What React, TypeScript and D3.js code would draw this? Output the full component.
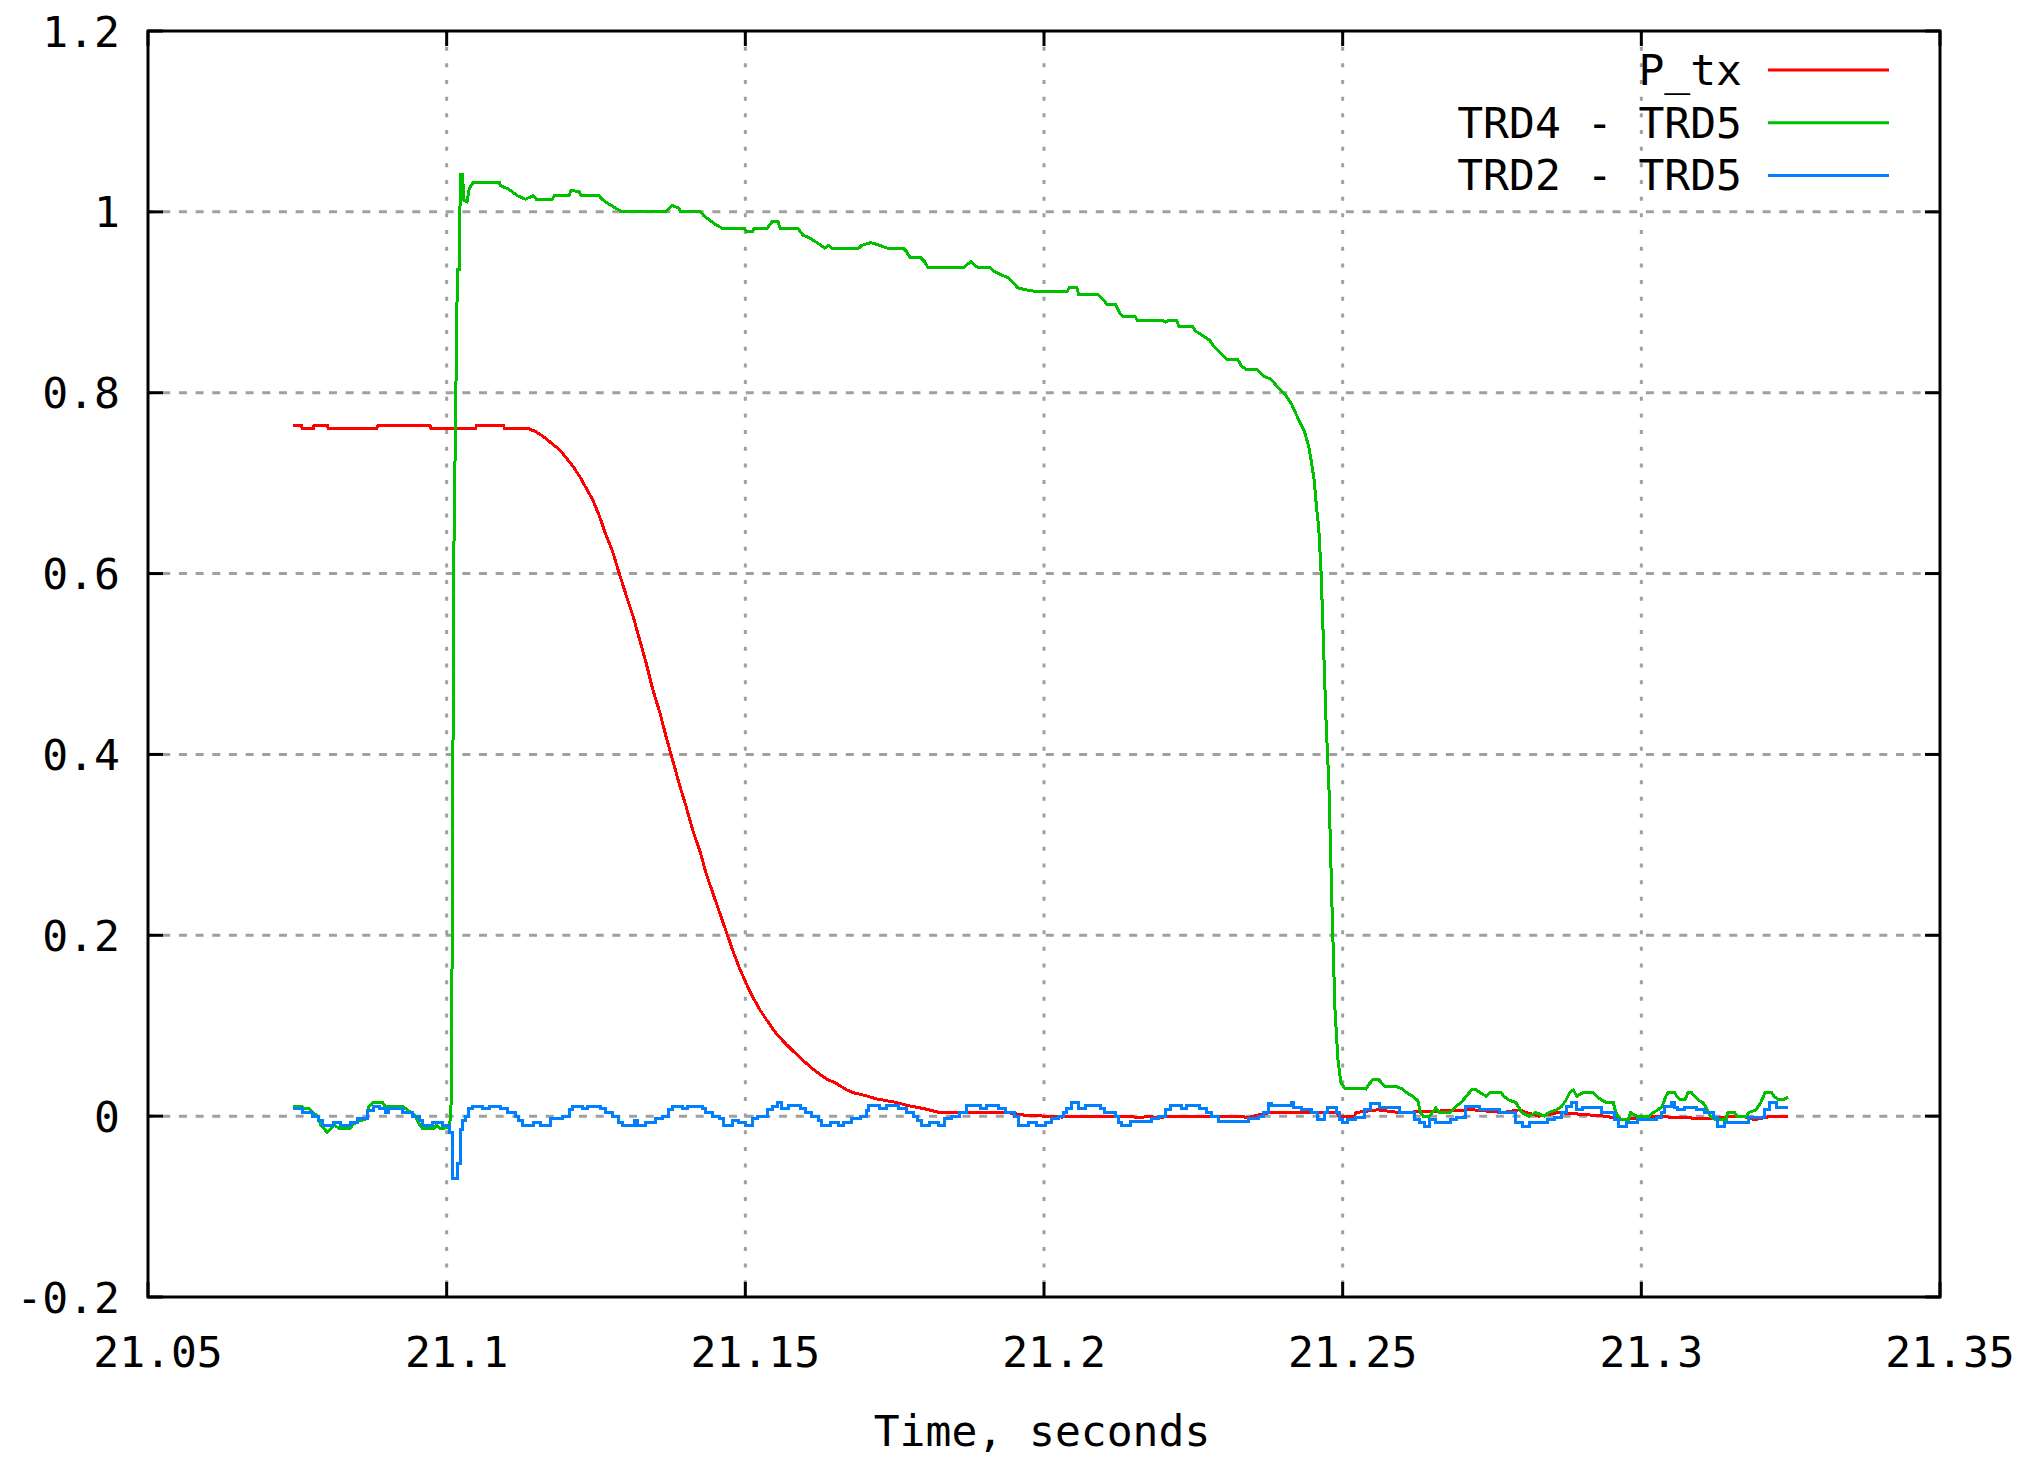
import React from 'react';
import * as d3 from 'd3';

const W = 2020;
const H = 1458;
const plot = { left: 148, right: 1940, top: 31, bottom: 1297 };

const xTicks = [21.05, 21.1, 21.15, 21.2, 21.25, 21.3, 21.35];
const xTickLabels = ['21.05', '21.1', '21.15', '21.2', '21.25', '21.3', '21.35'];
const yTicks = [-0.2, 0, 0.2, 0.4, 0.6, 0.8, 1, 1.2];
const yTickLabels = ['-0.2', '0', '0.2', '0.4', '0.6', '0.8', '1', '1.2'];

const seriesNames = ['P_tx', 'TRD4 - TRD5', 'TRD2 - TRD5'];
const seriesColors = ['#ff0000', '#00c000', '#0080ff'];

// [time, value]
const ptxData: [number, number][] = [
  [21.0743, 0.764], [21.0757, 0.764], [21.0758, 0.76], [21.0777, 0.76], [21.0778, 0.764],
  [21.08, 0.764], [21.0802, 0.76], [21.0883, 0.76], [21.0885, 0.764], [21.0972, 0.764],
  [21.0974, 0.76], [21.1048, 0.76], [21.105, 0.764], [21.1095, 0.764], [21.1097, 0.76],
  [21.1138, 0.76], [21.1149, 0.757], [21.1161, 0.752], [21.1172, 0.746], [21.1189, 0.737],
  [21.12, 0.728], [21.1212, 0.718], [21.1223, 0.707], [21.1234, 0.694], [21.1245, 0.681],
  [21.1256, 0.663], [21.1267, 0.642], [21.1278, 0.624], [21.1289, 0.6], [21.13, 0.577],
  [21.1312, 0.553], [21.1323, 0.527], [21.1334, 0.501], [21.1345, 0.472], [21.1357, 0.446],
  [21.1368, 0.418], [21.1379, 0.392], [21.139, 0.366], [21.1401, 0.342], [21.1412, 0.316],
  [21.1424, 0.293], [21.1435, 0.267], [21.1446, 0.246], [21.1457, 0.225], [21.1468, 0.204],
  [21.1479, 0.183], [21.149, 0.164], [21.1502, 0.146], [21.1513, 0.131], [21.1524, 0.118],
  [21.1535, 0.107], [21.1552, 0.091], [21.1569, 0.079], [21.1591, 0.065], [21.1613, 0.052],
  [21.1636, 0.041], [21.165, 0.037], [21.166, 0.033], [21.167, 0.029], [21.168, 0.026],
  [21.17, 0.023], [21.172, 0.019], [21.175, 0.0155], [21.177, 0.012], [21.1801, 0.008],
  [21.1823, 0.0044], [21.1935, 0.0044], [21.1968, 0.001], [21.2002, 0], [21.203, -0.001],
  [21.205, 0], [21.2141, 0], [21.216, -0.002], [21.2175, 0], [21.219, -0.002],
  [21.2211, 0], [21.2331, 0], [21.234, -0.002], [21.235, 0], [21.2381, 0.0044],
  [21.2489, 0.004], [21.2494, 0], [21.252, 0], [21.2522, 0.004], [21.2559, 0.007],
  [21.2595, 0.004], [21.2718, 0.007], [21.2768, 0.004], [21.2796, 0.007], [21.2807, 0.004],
  [21.2829, 0], [21.2861, 0.004], [21.2939, 0], [21.2972, -0.004], [21.3011, 0],
  [21.3117, -0.003], [21.315, 0], [21.3169, 0], [21.319, -0.004], [21.3218, 0], [21.3246, 0],
];

const trd45Data: [number, number][] = [
  [21.0743, 0.011], [21.0758, 0.011], [21.076, 0.008], [21.077, 0.008], [21.0775, 0.004],
  [21.0785, 0], [21.0789, -0.01], [21.0795, -0.014], [21.08, -0.018], [21.0806, -0.014],
  [21.0811, -0.01], [21.0822, -0.014], [21.0838, -0.014], [21.0842, -0.01], [21.085, -0.006],
  [21.0866, -0.003], [21.087, 0.011], [21.0878, 0.0155], [21.0892, 0.0155], [21.0897, 0.011],
  [21.0926, 0.011], [21.0932, 0.008], [21.094, 0.004], [21.0948, 0], [21.0955, -0.01],
  [21.096, -0.014], [21.0979, -0.014], [21.0983, -0.01], [21.099, -0.014], [21.1005, -0.012],
  [21.1008, 0.02], [21.1012, 0.62], [21.1018, 0.936], [21.1021, 0.936], [21.1023, 1.041],
  [21.1027, 1.041], [21.1028, 1.013], [21.1034, 1.011], [21.1038, 1.026], [21.1045, 1.033],
  [21.1088, 1.033], [21.109, 1.029], [21.1104, 1.025], [21.1118, 1.018], [21.1132, 1.014],
  [21.1145, 1.018], [21.115, 1.014], [21.1177, 1.014], [21.118, 1.018], [21.1205, 1.018],
  [21.1208, 1.024], [21.1222, 1.022], [21.1225, 1.018], [21.1255, 1.018], [21.126, 1.014],
  [21.1266, 1.011], [21.1283, 1.004], [21.1294, 1.0], [21.1367, 1.0], [21.1372, 1.004],
  [21.1378, 1.007], [21.1389, 1.004], [21.1392, 1.0], [21.1425, 1.0], [21.143, 0.996],
  [21.1436, 0.993], [21.145, 0.986], [21.1461, 0.982], [21.1498, 0.982], [21.1502, 0.978],
  [21.1512, 0.978], [21.1515, 0.982], [21.1537, 0.982], [21.1541, 0.986], [21.1545, 0.989],
  [21.1555, 0.989], [21.1558, 0.982], [21.1588, 0.982], [21.1592, 0.978], [21.1597, 0.974],
  [21.1608, 0.971], [21.162, 0.966], [21.1633, 0.96], [21.164, 0.963], [21.1645, 0.96],
  [21.169, 0.96], [21.1695, 0.963], [21.171, 0.966], [21.1725, 0.963], [21.1737, 0.96],
  [21.1764, 0.96], [21.177, 0.956], [21.1776, 0.949], [21.1794, 0.949], [21.18, 0.945],
  [21.1806, 0.938], [21.1866, 0.938], [21.187, 0.941], [21.1878, 0.945], [21.1884, 0.941],
  [21.189, 0.938], [21.191, 0.938], [21.1917, 0.934], [21.1929, 0.93], [21.1941, 0.927],
  [21.1956, 0.916], [21.1968, 0.914], [21.1986, 0.912], [21.2039, 0.912], [21.2042, 0.916],
  [21.2055, 0.916], [21.2058, 0.909], [21.209, 0.909], [21.2098, 0.904], [21.2105, 0.898],
  [21.212, 0.898], [21.2125, 0.89], [21.2132, 0.884], [21.2153, 0.884], [21.2156, 0.88],
  [21.2198, 0.88], [21.2203, 0.878], [21.2208, 0.88], [21.2222, 0.88], [21.2226, 0.873],
  [21.2249, 0.873], [21.2254, 0.868], [21.2266, 0.863], [21.2277, 0.858], [21.2286, 0.85],
  [21.2295, 0.844], [21.2302, 0.84], [21.2306, 0.837], [21.2324, 0.837], [21.233, 0.83],
  [21.2338, 0.826], [21.2356, 0.826], [21.2362, 0.822], [21.2368, 0.818], [21.238, 0.815],
  [21.2386, 0.81], [21.2395, 0.804], [21.2405, 0.797], [21.2414, 0.788], [21.2425, 0.772],
  [21.2436, 0.757], [21.2443, 0.741], [21.2447, 0.726], [21.2452, 0.705], [21.2456, 0.675],
  [21.246, 0.65], [21.2464, 0.6], [21.2468, 0.52], [21.2472, 0.44], [21.2477, 0.365],
  [21.2482, 0.235], [21.2487, 0.12], [21.2492, 0.063], [21.2497, 0.037], [21.2503, 0.031],
  [21.2539, 0.03], [21.2545, 0.036], [21.255, 0.04], [21.2561, 0.04], [21.257, 0.033],
  [21.2589, 0.033], [21.26, 0.03], [21.2607, 0.026], [21.2617, 0.022], [21.2626, 0.017],
  [21.263, 0.004], [21.2635, 0], [21.2645, 0], [21.265, 0.004], [21.2656, 0.009],
  [21.2662, 0.004], [21.2679, 0.004], [21.2684, 0.007], [21.269, 0.011], [21.2698, 0.015],
  [21.2707, 0.022], [21.2716, 0.029], [21.2724, 0.029], [21.273, 0.026], [21.274, 0.022],
  [21.2746, 0.026], [21.2765, 0.026], [21.277, 0.022], [21.2778, 0.018], [21.279, 0.015],
  [21.28, 0.004], [21.2812, 0], [21.2823, 0.004], [21.2838, 0], [21.2845, 0.004],
  [21.2858, 0.007], [21.2867, 0.011], [21.2874, 0.018], [21.288, 0.026], [21.2886, 0.029],
  [21.2892, 0.022], [21.2902, 0.026], [21.2919, 0.026], [21.2925, 0.022], [21.2933, 0.018],
  [21.2942, 0.015], [21.2953, 0.015], [21.2956, 0.007], [21.296, 0.001], [21.2964, -0.004],
  [21.2978, -0.004], [21.2982, 0.004], [21.2992, 0], [21.3014, 0], [21.302, 0.004],
  [21.3028, 0.007], [21.3035, 0.011], [21.3041, 0.022], [21.3045, 0.026], [21.3056, 0.026],
  [21.3059, 0.022], [21.3065, 0.018], [21.3073, 0.018], [21.3078, 0.026], [21.3084, 0.026],
  [21.3088, 0.023], [21.3095, 0.018], [21.3103, 0.015], [21.3108, 0.01], [21.3115, 0],
  [21.3124, -0.004], [21.3142, -0.004], [21.3145, 0.004], [21.3156, 0.004], [21.316, 0],
  [21.3176, 0], [21.318, 0.004], [21.3192, 0.007], [21.32, 0.015], [21.3207, 0.026],
  [21.3218, 0.026], [21.3222, 0.022], [21.323, 0.018], [21.3237, 0.018], [21.3246, 0.021],
];

// step series: value holds from this time to the next one
const trd25Data: [number, number][] = [
  [21.0743, 0.008], [21.0758, 0.004], [21.0775, 0], [21.0786, -0.005], [21.0792, -0.01],
  [21.0811, -0.007], [21.0823, -0.01], [21.0839, -0.007], [21.085, -0.003], [21.0867, 0.006],
  [21.0878, 0.011], [21.0887, 0.008], [21.0898, 0.004], [21.0903, 0.008], [21.0926, 0.004],
  [21.0943, 0], [21.0954, -0.005], [21.0959, -0.01], [21.0976, -0.007], [21.0993, -0.01],
  [21.1004, -0.018], [21.101, -0.069], [21.1018, -0.052], [21.1023, -0.015], [21.1027, -0.005],
  [21.1031, 0], [21.1036, 0.008], [21.1043, 0.011], [21.106, 0.008], [21.1071, 0.011],
  [21.109, 0.008], [21.1102, 0.004], [21.1116, 0], [21.1121, -0.005], [21.1127, -0.01],
  [21.1146, -0.007], [21.1157, -0.01], [21.1174, -0.003], [21.1194, 0], [21.1205, 0.007],
  [21.121, 0.011], [21.1227, 0.008], [21.1235, 0.011], [21.1258, 0.008], [21.1266, 0.004],
  [21.1277, 0], [21.1288, -0.007], [21.1294, -0.01], [21.1314, -0.005], [21.1319, -0.01],
  [21.1333, -0.007], [21.135, -0.003], [21.1361, 0], [21.1372, 0.007], [21.1378, 0.011],
  [21.1394, 0.008], [21.1403, 0.011], [21.1428, 0.008], [21.1434, 0.004], [21.1445, 0],
  [21.1456, -0.003], [21.1464, -0.01], [21.1478, -0.005], [21.1489, -0.007], [21.15, -0.01],
  [21.1512, -0.003], [21.152, 0], [21.1537, 0.007], [21.1545, 0.011], [21.1554, 0.0155],
  [21.1561, 0.008], [21.1572, 0.012], [21.1592, 0.008], [21.16, 0.004], [21.1611, 0],
  [21.1622, -0.005], [21.1628, -0.01], [21.1642, -0.007], [21.1656, -0.01], [21.1664, -0.007],
  [21.1678, -0.003], [21.1692, 0], [21.1703, 0.006], [21.1706, 0.012], [21.1725, 0.008],
  [21.1737, 0.012], [21.1756, 0.008], [21.177, 0.004], [21.1781, 0], [21.1789, -0.005],
  [21.1795, -0.01], [21.1809, -0.007], [21.1823, -0.01], [21.1834, -0.003], [21.1845, 0],
  [21.1859, 0.004], [21.187, 0.012], [21.1893, 0.008], [21.1904, 0.012], [21.1924, 0.008],
  [21.1935, 0.004], [21.1951, 0], [21.1957, -0.01], [21.1974, -0.007], [21.1988, -0.01],
  [21.2002, -0.007], [21.2013, -0.003], [21.2024, 0], [21.2032, 0.004], [21.2038, 0.008],
  [21.2046, 0.0148], [21.2057, 0.008], [21.2069, 0.012], [21.2094, 0.008], [21.2102, 0.004],
  [21.2119, 0], [21.2124, -0.007], [21.213, -0.01], [21.2144, -0.006], [21.218, -0.003],
  [21.2191, 0], [21.2203, 0.007], [21.2211, 0.012], [21.223, 0.008], [21.2239, 0.012],
  [21.2261, 0.008], [21.2272, 0.004], [21.2281, 0], [21.2292, -0.006], [21.2342, -0.003],
  [21.2359, 0], [21.2367, 0.004], [21.2376, 0.0135], [21.2381, 0.012], [21.2415, 0.015],
  [21.2417, 0.01], [21.2431, 0.007], [21.2447, 0.004], [21.2458, -0.004], [21.2469, 0.004],
  [21.2475, 0.01], [21.2489, 0.004], [21.2494, -0.004], [21.25, -0.007], [21.2508, -0.004],
  [21.2522, -0.001], [21.2536, 0.007], [21.2547, 0.014], [21.2561, 0.01], [21.2595, 0.004],
  [21.262, -0.004], [21.2628, -0.007], [21.2637, -0.011], [21.2645, -0.004], [21.2656, -0.007],
  [21.2681, -0.004], [21.269, -0.001], [21.2706, 0.011], [21.2729, 0.007], [21.2762, 0.004],
  [21.279, -0.007], [21.2801, -0.011], [21.2812, -0.007], [21.2843, -0.004], [21.2855, -0.001],
  [21.2866, 0.004], [21.2874, 0.011], [21.2883, 0.015], [21.2891, 0.007], [21.2902, 0.01],
  [21.2933, 0.004], [21.2955, -0.004], [21.2961, -0.011], [21.2975, -0.007], [21.2994, -0.004],
  [21.3025, -0.001], [21.3033, 0.004], [21.3039, 0.011], [21.305, 0.015], [21.3056, 0.01],
  [21.3061, 0.007], [21.3073, 0.01], [21.3092, 0.007], [21.3106, 0.004], [21.312, -0.001],
  [21.3128, -0.011], [21.3139, -0.007], [21.3179, -0.001], [21.3206, 0.007], [21.3215, 0.015],
  [21.3226, 0.01], [21.3246, 0.01],
];

const FONT = '"DejaVu Sans Mono", "Liberation Mono", monospace';

export default function App() {
  const x = d3.scaleLinear().domain([21.05, 21.35]).range([plot.left, plot.right]);
  const y = d3.scaleLinear().domain([-0.2, 1.2]).range([plot.bottom, plot.top]);

  const line = d3.line<[number, number]>().x(d => x(d[0])).y(d => y(d[1]));
  const stepLine = d3
    .line<[number, number]>()
    .x(d => x(d[0]))
    .y(d => y(d[1]))
    .curve(d3.curveStepAfter);

  const paths = [line(ptxData), line(trd45Data), stepLine(trd25Data)];

  const tickLen = 15;

  return (
    <div style={{ position: 'absolute', left: 0, top: 0, width: W, height: H, background: '#fff' }}>
      <svg width={W} height={H} style={{ display: 'block' }} fontFamily={FONT} fontSize={43}>
        <rect x={0} y={0} width={W} height={H} fill="#fff" />

        {/* grid */}
        {yTicks.slice(1, -1).map(t => (
          <line
            key={'gy' + t}
            x1={plot.left}
            x2={plot.right}
            y1={y(t)}
            y2={y(t)}
            stroke="#a0a0a0"
            strokeWidth={3}
            strokeDasharray="8,8.67"
            strokeDashoffset={2.4}
          />
        ))}
        {xTicks.slice(1, -1).map(t => (
          <line
            key={'gx' + t}
            x1={x(t)}
            x2={x(t)}
            y1={plot.top}
            y2={plot.bottom}
            stroke="#a0a0a0"
            strokeWidth={3}
            strokeDasharray="4,12.67"
            strokeDashoffset={1}
          />
        ))}

        {/* data */}
        {paths.map((d, i) => (
          <path
            key={seriesNames[i]}
            d={d || ''}
            fill="none"
            stroke={seriesColors[i]}
            strokeWidth={3}
            strokeLinejoin="miter"
            shapeRendering="crispEdges"
          />
        ))}

        {/* border */}
        <rect
          x={plot.left}
          y={plot.top}
          width={plot.right - plot.left}
          height={plot.bottom - plot.top}
          fill="none"
          stroke="#000"
          strokeWidth={3}
        />

        {/* ticks, mirrored on all sides */}
        {yTicks.map(t => (
          <g key={'ty' + t}>
            <line x1={plot.left} x2={plot.left + tickLen} y1={y(t)} y2={y(t)} stroke="#000" strokeWidth={3} />
            <line x1={plot.right - tickLen} x2={plot.right} y1={y(t)} y2={y(t)} stroke="#000" strokeWidth={3} />
          </g>
        ))}
        {xTicks.map(t => (
          <g key={'tx' + t}>
            <line x1={x(t)} x2={x(t)} y1={plot.bottom} y2={plot.bottom - tickLen} stroke="#000" strokeWidth={3} />
            <line x1={x(t)} x2={x(t)} y1={plot.top} y2={plot.top + tickLen} stroke="#000" strokeWidth={3} />
          </g>
        ))}

        {/* tick labels */}
        {yTicks.map((t, i) => (
          <text key={'ly' + t} x={120} y={y(t) + 15.5} textAnchor="end" fill="#000">
            {yTickLabels[i]}
          </text>
        ))}
        {xTicks.map((t, i) => (
          <text key={'lx' + t} x={x(t) + 10} y={plot.bottom + 70} textAnchor="middle" fill="#000">
            {xTickLabels[i]}
          </text>
        ))}

        {/* axis title */}
        <text x={1042} y={1446} textAnchor="middle" fill="#000">
          Time, seconds
        </text>

        {/* legend */}
        {seriesNames.map((name, i) => {
          const ly = 70 + i * 52.7;
          return (
            <g key={'lg' + name}>
              <text x={1742} y={ly + 15} textAnchor="end" fill="#000" style={{ whiteSpace: 'pre' }}>
                {name}
              </text>
              <line x1={1768} x2={1889} y1={ly} y2={ly} stroke={seriesColors[i]} strokeWidth={3} />
            </g>
          );
        })}
      </svg>
    </div>
  );
}
